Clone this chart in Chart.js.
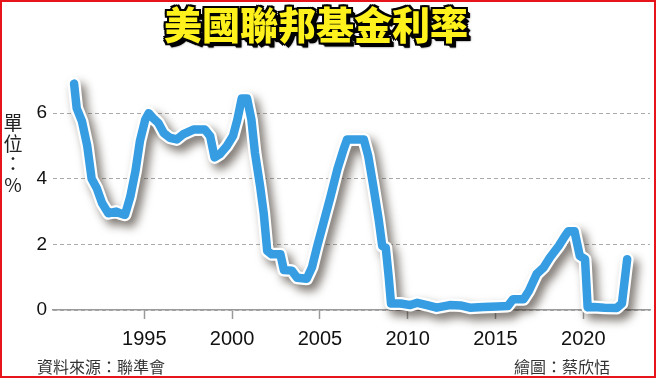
<!DOCTYPE html>
<html><head><meta charset="utf-8">
<script src="https://cdn.jsdelivr.net/npm/chart.js@4/dist/chart.umd.min.js"></script>
<style>
html,body{margin:0;padding:0;background:#fff;}
#wrap{position:relative;width:656px;height:378px;overflow:hidden;background:#fff;}
#frame{position:absolute;left:0;top:0;width:656px;height:378px;box-sizing:border-box;border:2px solid #e8141b;pointer-events:none;z-index:5;}
#c{position:absolute;left:0;top:0;}
#title{position:absolute;left:0;width:632px;top:1px;text-align:center;font-family:"Noto Sans CJK TC","Noto Sans CJK SC",sans-serif;font-weight:900;font-size:38px;line-height:44px;color:#fff21c;letter-spacing:0px;
text-shadow:-2px -2px 0 #000,2px -2px 0 #000,-2px 2px 0 #000,2px 2px 0 #000,0 -2px 0 #000,0 2px 0 #000,-2px 0 0 #000,2px 0 0 #000,3px 3px 0 #000,4px 4px 0 #000,4px 4px 2px #444;z-index:3;}
#unit{position:absolute;left:3px;top:112px;width:20px;text-align:center;font-family:"Noto Sans CJK TC",sans-serif;font-size:19px;line-height:20.5px;color:#222;z-index:3;}
.foot{position:absolute;top:355px;font-family:"Noto Sans CJK TC",sans-serif;font-size:16px;line-height:22px;color:#333;z-index:3;white-space:nowrap;}
</style></head>
<body>
<div id="wrap">
<canvas id="c" width="656" height="378"></canvas>
<div id="title">美國聯邦基金利率</div>
<div id="unit">單<br>位<br>：<br>%</div>
<div class="foot" style="left:37px">資料來源：聯準會</div>
<div class="foot" style="right:46px">繪圖：蔡欣恬</div>
<div id="frame"></div>
</div>
<script>
// Data (year, percent)
const years = [1991.0,1991.15,1991.45,1991.75,1992.0,1992.3,1992.6,1992.95,1993.4,1993.6,1993.9,1994.2,1994.5,1994.75,1995.05,1995.25,1995.5,1995.8,1996.1,1996.45,1996.85,1997.2,1997.8,1998.45,1998.75,1999.0,1999.3,1999.7,2000.05,2000.3,2000.55,2000.85,2001.1,2001.3,2001.6,2001.8,2002.0,2002.25,2002.75,2002.95,2003.4,2003.7,2004.25,2004.55,2004.85,2005.2,2005.6,2006.0,2006.35,2006.55,2007.5,2007.75,2008.05,2008.35,2008.55,2008.75,2008.92,2009.05,2009.6,2010.15,2010.55,2011.1,2011.65,2012.4,2013.0,2013.55,2014.3,2015.1,2015.7,2016.0,2016.6,2016.9,2017.35,2017.75,2018.1,2018.6,2018.95,2019.15,2019.5,2019.8,2020.1,2020.25,2020.6,2021.2,2021.9,2022.2,2022.5];
const rates = [6.9,6.15,5.75,5.0,4.0,3.7,3.25,2.95,3.0,2.95,2.9,3.45,4.25,5.15,5.8,6.0,5.85,5.7,5.4,5.25,5.2,5.35,5.5,5.5,5.3,4.65,4.75,5.0,5.3,5.8,6.45,6.45,5.8,4.8,3.75,2.95,1.8,1.7,1.7,1.22,1.2,0.98,0.95,1.3,1.95,2.65,3.45,4.3,4.9,5.2,5.2,4.7,3.75,2.75,1.95,1.9,1.0,0.2,0.2,0.15,0.22,0.15,0.07,0.15,0.14,0.07,0.09,0.11,0.12,0.33,0.33,0.58,1.1,1.3,1.6,1.95,2.25,2.4,2.4,1.65,1.55,0.08,0.09,0.07,0.06,0.2,1.55];
const xTicks = [1995,2000,2005,2010,2015,2020];
const yTicks = [0,2,4,6];

const points = years.map((x,i)=>({x:x,y:rates[i]}));

const shadowPlugin = {
  id:'lineShadow',
  beforeDatasetDraw(chart,args){
    if(args.index===1){const c=chart.ctx;c.save();c.shadowColor='rgba(40,30,20,0.6)';c.shadowBlur=10;c.shadowOffsetX=5;c.shadowOffsetY=6;}
  },
  afterDatasetDraw(chart,args){ if(args.index===1){chart.ctx.restore();} }
};

new Chart(document.getElementById('c'),{
  type:'line',
  data:{datasets:[
    {data:points,borderColor:'#369de2',borderWidth:8.5,pointRadius:0,tension:0,borderJoinStyle:'round',borderCapStyle:'round',clip:false},
    {data:points,borderColor:'#ffffff',borderWidth:13,pointRadius:0,tension:0,borderJoinStyle:'round',borderCapStyle:'round',clip:false}
  ]},
  plugins:[shadowPlugin],
  options:{
    responsive:false,animation:false,devicePixelRatio:1,
    layout:{padding:{top:60,left:0,right:6,bottom:0}},
    plugins:{legend:{display:false},tooltip:{enabled:false},title:{display:false}},
    scales:{
      x:{type:'linear',min:1989.8,max:2023.8,
        afterFit(s){s.height=68;},
        afterBuildTicks(s){s.ticks=xTicks.map(v=>({value:v}));},
        grid:{drawOnChartArea:false,drawTicks:true,tickLength:9,tickColor:'#9a9a9a',tickWidth:1.5},
        border:{display:true,color:'#9a9a9a',width:1.5},
        ticks:{autoSkip:false,maxRotation:0,padding:8,color:'#111',font:{family:'Liberation Sans',size:20},callback:v=>String(v)}
      },
      y:{min:0,max:7.62,
        afterFit(s){s.width=53;},
        afterBuildTicks(s){s.ticks=yTicks.map(v=>({value:v}));},
        grid:{drawTicks:false,color:'#ababab',lineWidth:1},
        border:{display:false,dash:[4,3]},
        ticks:{padding:6,color:'#111',font:{family:'Liberation Sans',size:19},callback:v=>String(v)}
      }
    }
  }
});
</script>
</body></html>
